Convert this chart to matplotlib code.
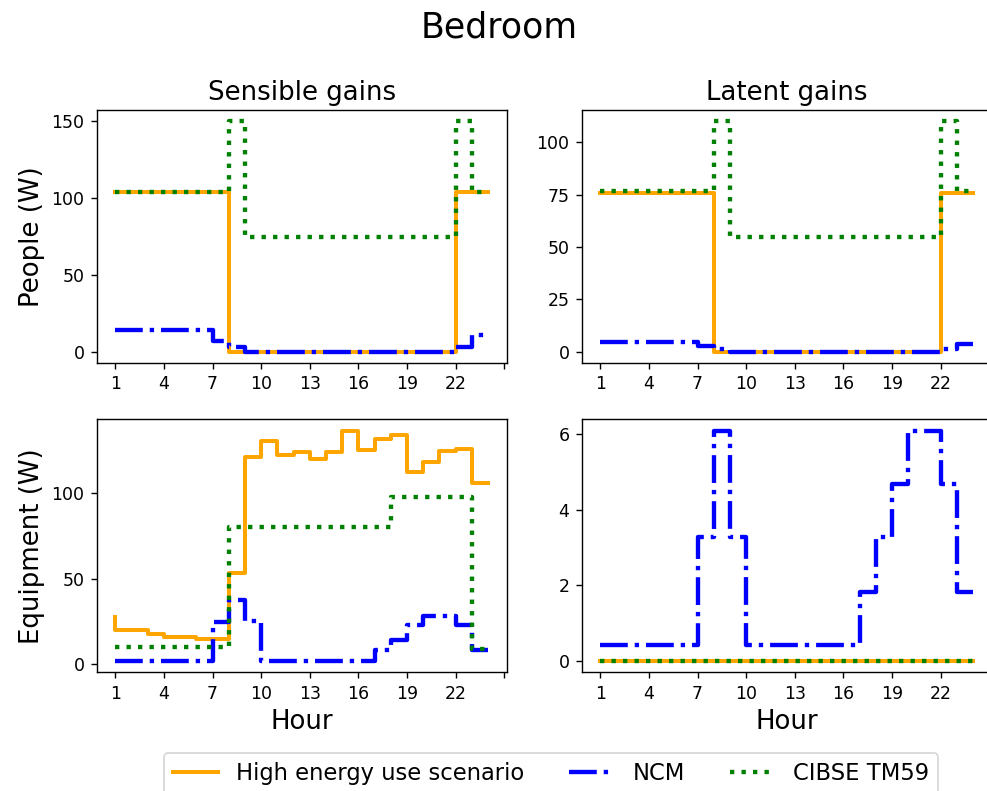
import matplotlib
matplotlib.use('Agg')
import matplotlib.pyplot as plt
import numpy as np

hours = np.arange(1, 25)

# sensible gains, people (W)
high_people_sens = [104]*8 + [0]*14 + [104]*2
ncm_people_sens = [14]*7 + [7, 3] + [0]*13 + [3, 11]
tm59_people_sens = [104]*8 + [150] + [75]*13 + [150, 104]

# latent gains, people (W)
high_people_lat = [76]*8 + [0]*14 + [76]*2
ncm_people_lat = [4.8]*7 + [2.5, 1.2] + [0]*13 + [1.2, 3.5]
tm59_people_lat = [77]*8 + [110] + [55]*13 + [110, 77]

# sensible gains, equipment (W)
high_equip_sens = [27.6, 19.8, 19.8, 17.5, 16, 16, 14.8, 14.8, 53.5, 121,
                   130.7, 122.4, 124.3, 120, 124.3, 136.6, 125.5, 131.5, 134.2,
                   112.6, 118.5, 124.5, 125.9, 106]
ncm_equip_sens = [2]*7 + [24.7, 37.4, 25.3] + [2]*7 + [8.6, 14, 22.8, 28.2, 28.2, 22.8, 8.6]
tm59_equip_sens = [10]*8 + [80]*10 + [98]*5 + [9]

# latent gains, equipment (W)
high_equip_lat = [0]*24
ncm_equip_lat = [0.41]*7 + [3.27, 6.09, 3.27] + [0.41]*7 + [1.82, 3.27, 4.68, 6.09, 6.09, 4.68, 1.82]
tm59_equip_lat = [0]*24

labels = ['High energy use scenario', 'NCM', 'CIBSE TM59']
x_ticks = list(range(1, 26, 3))

fig, axs = plt.subplots(2, 2, figsize=(987/125, 791/125), dpi=125)
fig.subplots_adjust(left=0.098, right=1.0047, bottom=0.150, top=0.861,
                    wspace=0.183, hspace=0.221)

panels = [
    (axs[0, 0], high_people_sens, ncm_people_sens, tm59_people_sens, [0, 50, 100, 150]),
    (axs[0, 1], high_people_lat, ncm_people_lat, tm59_people_lat, [0, 25, 50, 75, 100]),
    (axs[1, 0], high_equip_sens, ncm_equip_sens, tm59_equip_sens, [0, 50, 100]),
    (axs[1, 1], high_equip_lat, ncm_equip_lat, tm59_equip_lat, [0, 2, 4, 6]),
]

for ax, h, n, t, yt in panels:
    ax.step(hours, h, color='orange', linestyle='-', linewidth=2.3, label=labels[0])
    ax.step(hours, n, color='blue', linestyle='-.', linewidth=2.5, label=labels[1])
    ax.step(hours, t, color='green', linestyle=':', linewidth=2.5, label=labels[2])
    ax.set_xticks(x_ticks)
    ax.set_xticklabels([str(v) for v in x_ticks[:-1]] + [''])
    ax.set_yticks(yt)

axs[0, 0].set_title('Sensible gains', fontsize=15)
axs[0, 1].set_title('Latent gains', fontsize=15)
axs[0, 0].set_ylabel('People (W)', fontsize=15)
axs[1, 0].set_ylabel('Equipment (W)', fontsize=15)
axs[1, 0].set_xlabel('Hour', fontsize=15)
axs[1, 1].set_xlabel('Hour', fontsize=15)

fig.suptitle('Bedroom', fontsize=20, x=499/987, y=0.987)

handles, labs = axs[0, 0].get_legend_handles_labels()
fig.legend(handles, labs, loc='upper center', bbox_to_anchor=(551/987, 1 - 742/791),
           ncol=3, fontsize=13)

fig.savefig('out.png', dpi=125)
